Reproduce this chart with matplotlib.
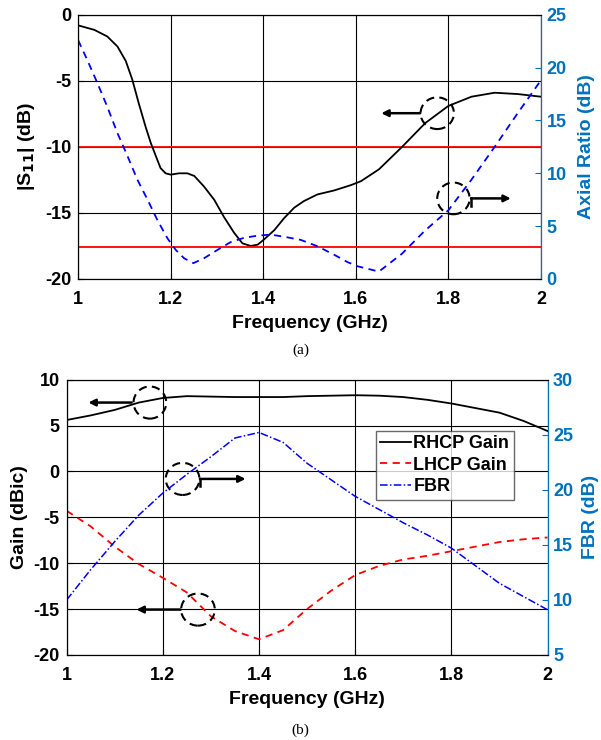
import matplotlib.pyplot as plt
from matplotlib.patches import Ellipse

plt.rcParams['font.family'] = ['Liberation Sans', 'DejaVu Sans']
plt.rcParams['font.weight'] = 'bold'
plt.rcParams['axes.unicode_minus'] = False
plt.rcParams['mathtext.default'] = 'bf'

# (a) S11 and axial ratio
freq_s11 = [1.0, 1.035, 1.063, 1.085, 1.103, 1.117, 1.131, 1.146, 1.157, 1.168, 1.178, 1.189,
            1.2, 1.218, 1.236, 1.251, 1.272, 1.294, 1.315, 1.337, 1.355, 1.373, 1.388, 1.402,
            1.424, 1.445, 1.467, 1.488, 1.517, 1.553, 1.589, 1.611, 1.65, 1.7, 1.75, 1.8,
            1.85, 1.9, 1.95, 2.0]
s11 = [-0.8, -1.14, -1.64, -2.4, -3.5, -4.9, -6.7, -8.5, -9.7, -10.7, -11.6, -12.0,
       -12.1, -12.0, -12.0, -12.2, -13.0, -14.0, -15.3, -16.5, -17.3, -17.5, -17.4, -17.0,
       -16.3, -15.4, -14.6, -14.1, -13.6, -13.3, -12.9, -12.6, -11.7, -10.0, -8.2, -6.9,
       -6.2, -5.9, -6.0, -6.2]
freq_ar = [1.0, 1.02, 1.042, 1.063, 1.085, 1.107, 1.128, 1.15, 1.171, 1.193, 1.211, 1.229,
           1.249, 1.272, 1.301, 1.33, 1.359, 1.388, 1.416, 1.445, 1.481, 1.517, 1.553, 1.582,
           1.604, 1.65, 1.7, 1.75, 1.8, 1.85, 1.9, 1.95, 2.0]
axial_ratio = [22.6, 20.7, 18.5, 16.3, 13.8, 11.6, 9.4, 7.5, 5.6, 3.85, 2.75, 1.96,
               1.5, 1.96, 2.75, 3.5, 3.9, 4.1, 4.2, 4.0, 3.7, 3.1, 2.3, 1.6,
               1.2, 0.7, 2.4, 4.6, 6.5, 9.4, 12.5, 15.7, 18.8]
s11_limit = -10
ar_limit = 3

# (b) gain and FBR
freq_g = [1.0, 1.05, 1.1, 1.15, 1.2, 1.25, 1.3, 1.35, 1.4, 1.45, 1.5, 1.55, 1.6, 1.65,
          1.7, 1.75, 1.8, 1.85, 1.9, 1.95, 2.0]
rhcp = [5.6, 6.1, 6.7, 7.5, 8.0, 8.2, 8.15, 8.1, 8.1, 8.1, 8.2, 8.25, 8.3, 8.25,
        8.1, 7.8, 7.4, 6.9, 6.4, 5.5, 4.4]
lhcp = [-4.3, -6.0, -8.2, -10.1, -11.6, -13.2, -15.8, -17.4, -18.3, -17.3, -15.0, -13.0, -11.3, -10.3,
        -9.6, -9.2, -8.7, -8.2, -7.7, -7.4, -7.2]
fbr = [10.0, 12.75, 15.3, 17.7, 19.7, 21.4, 23.0, 24.7, 25.2, 24.3, 22.4, 20.9, 19.4, 18.2,
       17.0, 15.9, 14.7, 13.1, 11.5, 10.3, 9.1]

right_blue = '#0072BD'
fs = 13
lfs = 14


def circle_arrow(ax, cx, cy, w, h, x0, x1, hook=0):
    ax.add_patch(Ellipse((cx, cy), w, h, fill=False, ls=(0, (4, 2.5)), lw=1.5,
                         color='black', zorder=6))
    ax.annotate('', xy=(x1, cy), xytext=(x0, cy),
                arrowprops=dict(arrowstyle='-|>', color='black', lw=1.8, mutation_scale=10,
                                shrinkA=0, shrinkB=0),
                zorder=6)
    if hook:
        ax.plot([x0, x0], [cy, cy - hook], color='black', lw=1.8, zorder=6)


def style(ax, ax2):
    ax.set_xlim(1, 2)
    ax.set_xticks([1, 1.2, 1.4, 1.6, 1.8, 2])
    ax.set_xticklabels(['1', '1.2', '1.4', '1.6', '1.8', '2'])
    ax.grid(True, color='black', lw=0.8)
    ax.tick_params(direction='in', labelsize=fs, length=4)
    ax.tick_params(axis='x', pad=9)
    ax.tick_params(axis='y', pad=5)
    ax2.tick_params(direction='in', labelsize=fs, colors=right_blue, length=4, pad=4)
    ax2.spines['right'].set_color(right_blue)
    for lab in ax.get_xticklabels() + ax.get_yticklabels() + ax2.get_yticklabels():
        lab.set_fontweight('bold')
    ax.set_xlabel('Frequency (GHz)', fontsize=lfs, fontweight='bold', labelpad=5)


fig = plt.figure(figsize=(6.01, 7.40), dpi=100)

# panel (a)
ax1 = fig.add_axes([0.130, 0.623, 0.770, 0.357])
ax1b = ax1.twinx()
ax1.plot(freq_s11, s11, color='black', lw=1.3, zorder=5)
ax1.axhline(s11_limit, color='red', lw=1.3, zorder=4)
ax1b.axhline(ar_limit, color='red', lw=1.3)
ax1b.plot(freq_ar, axial_ratio, color='blue', ls=(0, (4, 3)), lw=1.3)
ax1.set_ylim(-20, 0)
ax1.set_yticks([-20, -15, -10, -5, 0])
ax1b.set_ylim(0, 25)
ax1b.set_yticks([0, 5, 10, 15, 20, 25])
ax1.set_ylabel('|S$_{11}$| (dB)', fontsize=lfs, fontweight='bold', labelpad=6)
ax1b.set_ylabel('Axial Ratio (dB)', fontsize=lfs, fontweight='bold', color=right_blue, labelpad=8)
style(ax1, ax1b)
circle_arrow(ax1, 1.776, -7.45, 0.072, 2.4, 1.739, 1.655)
circle_arrow(ax1, 1.811, -13.9, 0.07, 2.4, 1.849, 1.935, hook=0.55)
fig.text(0.5, 0.522, '(a)', ha='center', fontsize=11, family='Liberation Serif', fontweight='normal')

# panel (b)
ax2 = fig.add_axes([0.111, 0.115, 0.800, 0.372])
ax2b = ax2.twinx()
l1, = ax2.plot(freq_g, rhcp, color='black', lw=1.3, label='RHCP Gain')
l2, = ax2.plot(freq_g, lhcp, color='red', ls=(0, (4, 3)), lw=1.3, label='LHCP Gain')
l3, = ax2b.plot(freq_g, fbr, color='blue', ls=(0, (5, 1.5, 1, 1.5)), lw=1.1, label='FBR')
ax2.set_ylim(-20, 10)
ax2.set_yticks([-20, -15, -10, -5, 0, 5, 10])
ax2b.set_ylim(5, 30)
ax2b.set_yticks([5, 10, 15, 20, 25, 30])
ax2.set_ylabel('Gain (dBic)', fontsize=lfs, fontweight='bold', labelpad=4)
ax2b.set_ylabel('FBR (dB)', fontsize=lfs, fontweight='bold', color=right_blue, labelpad=6)
style(ax2, ax2b)
leg = ax2b.legend([l1, l2, l3], ['RHCP Gain', 'LHCP Gain', 'FBR'], loc='upper right',
                  bbox_to_anchor=(0.93, 0.815), fontsize=fs, frameon=True, fancybox=False,
                  edgecolor='#444444', handlelength=1.7, handletextpad=0.15,
                  borderpad=0.25, labelspacing=0.25, borderaxespad=0)
leg.get_frame().set_linewidth(1.0)
for t in leg.get_texts():
    t.set_fontweight('bold')
circle_arrow(ax2, 1.173, 7.5, 0.068, 3.5, 1.135, 1.045)
circle_arrow(ax2, 1.241, -0.82, 0.07, 3.5, 1.277, 1.372, hook=0.8)
circle_arrow(ax2, 1.273, -15.06, 0.07, 3.5, 1.237, 1.145)
fig.text(0.5, 0.008, '(b)', ha='center', fontsize=11, family='Liberation Serif', fontweight='normal')

fig.savefig('out.png', dpi=100)
